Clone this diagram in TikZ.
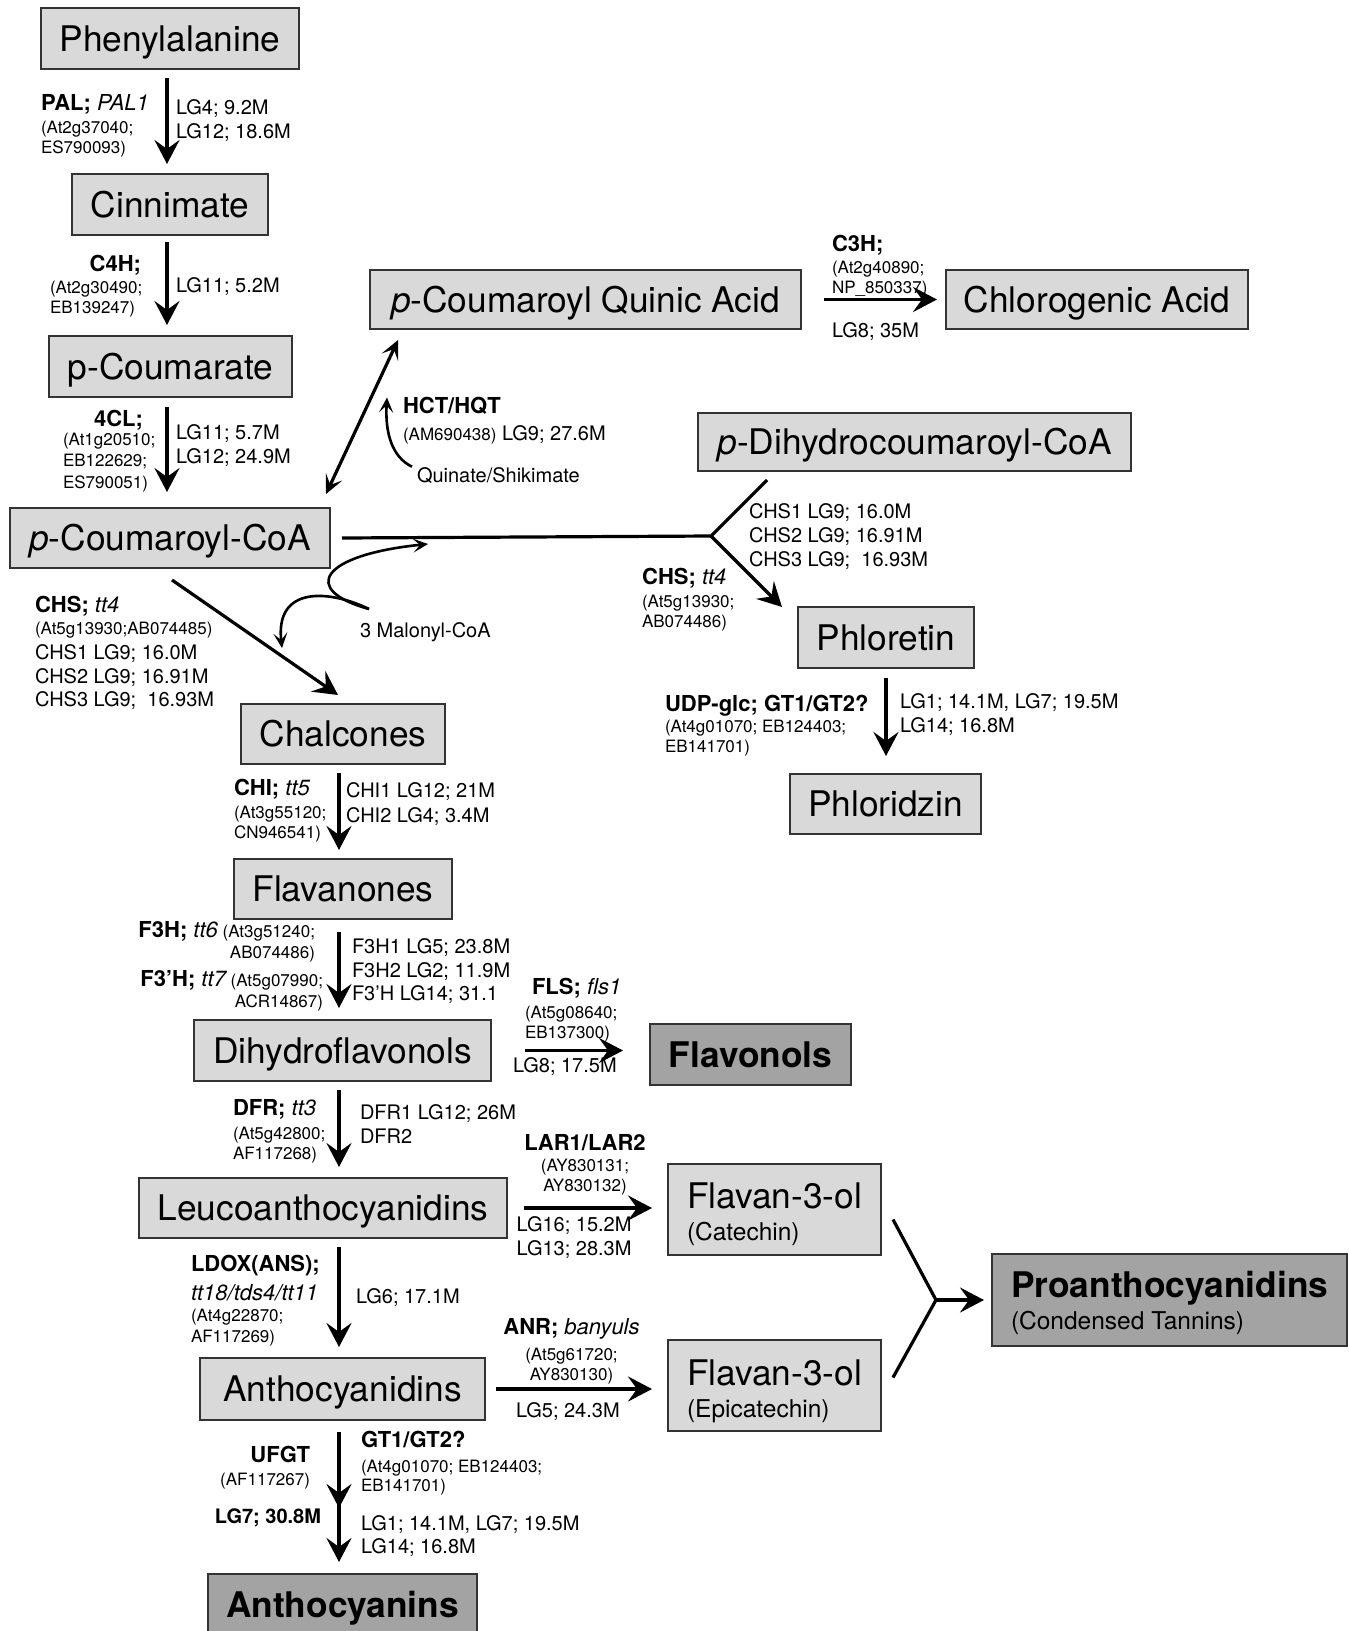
\documentclass[tikz,border=0pt]{standalone}
\usepackage{fontspec}
\setmainfont{TeX Gyre Heros}
\usepackage{tikz}
\usetikzlibrary{arrows.meta, positioning, calc}
\newcommand{\fbig}{\fontsize{35.3}{32}\selectfont}
\newcommand{\fsub}{\fontsize{24.5}{28}\selectfont}
\newcommand{\fmid}{\fontsize{20}{23.5}\selectfont}
\newcommand{\fsmall}{\fontsize{17}{20}\selectfont}
\newcommand{\fenz}{\fontsize{22}{24}\selectfont\bfseries}
\tikzset{
    box/.style={draw=black!80, fill=black!15, line width=1.6pt, inner sep=0pt, outer sep=0pt, font=\fbig, text height=25.3pt, text depth=0pt},
    darkbox/.style={box, fill=black!36, font=\fbig\bfseries},
    boxtext/.style={anchor=north west, inner sep=0pt, outer sep=0pt, align=left, font=\fbig},
    rxn/.style={-{Stealth[length=24pt, width=25pt, inset=9pt]}, line width=3.6pt},
    link/.style={line width=3.2pt},
    twoway/.style={{Stealth[length=19pt, width=18pt, inset=9pt]}-{Stealth[length=19pt, width=18pt, inset=9pt]}, line width=3.2pt},
    curly/.style={-{Stealth[length=15pt, width=14pt, inset=7pt]}, line width=2.6pt},
    lg/.style={anchor=north west, inner sep=0pt, outer sep=0pt, align=left, font=\fmid},
    gene/.style={lg, font=\fsmall}
}
\begin{document}
\begin{tikzpicture}[x=1pt, y=-1pt]
    \useasboundingbox (0,0) rectangle (1349,1631);
    \clip (0,0) rectangle (1349,1631);
    % columns of the two vertical chains
    \coordinate (colA) at (167,0);
    \coordinate (colB) at (339,0);
    % compounds
    \node[box, minimum width=258pt, minimum height=61pt] (phe) at (170,38.5) {Phenylalanine};
    \node[box, minimum width=196pt, minimum height=61pt] (cin) at (170,204.5) {Cinnimate};
    \node[box, minimum width=243pt, minimum height=61pt] (pcm) at (170.5,366.5) {p-Coumarate};
    \node[box, minimum width=320pt, minimum height=60pt] (pcoa) at (170,538) {\textit{p}-Coumaroyl-CoA};
    \node[box, minimum width=431pt, minimum height=59pt] (pqa) at (585.5,299.5) {\textit{p}-Coumaroyl Quinic Acid};
    \node[box, minimum width=302pt, minimum height=59pt] (chl) at (1097,299.5) {Chlorogenic Acid};
    \node[box, minimum width=433pt, minimum height=58pt] (dhc) at (914.5,442) {\textit{p}-Dihydrocoumaroyl-CoA};
    \node[box, minimum width=176pt, minimum height=61pt] (phlt) at (886,637.5) {Phloretin};
    \node[box, minimum width=191pt, minimum height=60pt] (phlz) at (885.5,804) {Phloridzin};
    \node[box, minimum width=204pt, minimum height=60pt] (chal) at (343,734) {Chalcones};
    \node[box, minimum width=218pt, minimum height=60pt] (flvn) at (343,889) {Flavanones};
    \node[box, minimum width=297pt, minimum height=61pt] (dhf) at (342.5,1050.5) {Dihydroflavonols};
    \node[darkbox, minimum width=201pt, minimum height=61pt] (flvl) at (750.5,1054.5) {Flavonols};
    \node[box, minimum width=368pt, minimum height=60pt] (leuco) at (323,1208) {Leucoanthocyanidins};
    \node[box, minimum width=213pt, minimum height=91pt] (cat) at (774.5,1209.5) {};
    \node[box, minimum width=213pt, minimum height=91pt] (epi) at (774.5,1385.5) {};
    \node[darkbox, minimum width=355pt, minimum height=92pt] (pro) at (1169.5,1300) {};
    \node[box, minimum width=285pt, minimum height=62pt] (acy) at (342.5,1389) {Anthocyanidins};
    \node[darkbox, minimum width=269pt, minimum height=62pt] (acn) at (342.5,1605) {Anthocyanins};
    \node[boxtext] (catlbl) at ($(cat.north west)+(19,19)$) {Flavan-3-ol\\{\fsub (Catechin)}};
    \node[boxtext] (epilbl) at ($(epi.north west)+(19,19.5)$) {Flavan-3-ol\\{\fsub (Epicatechin)}};
    \node[boxtext, font=\fbig\bfseries] (prolbl) at ($(pro.north west)+(19,17.2)$) {Proanthocyanidins\\{\fsub\mdseries (Condensed Tannins)}};
    % enzymes and map positions
    \node[gene] (palL) at (41,94.5) {{\fenz PAL; {\mdseries\itshape PAL1}}\\[3pt](At2g37040;\\ES790093)};
    \node[lg] (palG) at (176,100) {LG4; 9.2M\\LG12; 18.6M};
    \node[gene, anchor=north east] (c4hE) at (141,255.5) {\fenz C4H;};
    \node[gene] (c4hA) at (50,281) {(At2g30490;\\EB139247)};
    \node[lg] (c4hG) at (176,277.7) {LG11; 5.2M};
    \node[gene, anchor=north east] (fclE) at (143,410) {\fenz 4CL;};
    \node[gene, font=\fontsize{17}{21.5}\selectfont] (fclA) at (63,433) {(At1g20510;\\EB122629;\\ES790051)};
    \node[lg] (fclG) at (176,425) {LG11; 5.7M\\LG12; 24.9M};
    \node[lg] (hctL) at (403,397.5) {{\fenz HCT/HQT}\\[3.5pt]{\fsmall (AM690438)} LG9; 27.6M};
    \node[lg] (quin) at (417,467.7) {Quinate/Shikimate};
    \node[gene] (c3hL) at (832,235) {{\fenz C3H;}\\[2.6pt](At2g40890;\\NP\_850337)};
    \node[lg] (c3hG) at (832,322.7) {LG8; 35M};
    \node[lg, font=\fontsize{20}{24}\selectfont] (chsG) at (749,503.4) {CHS1 LG9; 16.0M\\CHS2 LG9; 16.91M\\CHS3 LG9;\ \ 16.93M};
    \node[gene] (chsR) at (642,568.5) {{\fenz CHS; {\mdseries\itshape tt4}}\\[2.4pt](At5g13930;\\AB074486)};
    \node[gene] (udpL) at (665,695) {{\fenz UDP-glc; GT1/GT2?}\\[1pt](At4g01070; EB124403;\\EB141701)};
    \node[lg] (udpG) at (900,694) {LG1; 14.1M, LG7; 19.5M\\LG14; 16.8M};
    \node[lg] (chsL) at (35,596) {{\fenz CHS; {\mdseries\itshape tt4}}\\[-1.2pt]{\fsmall (At5g13930;AB074485)}\\[1.8pt]CHS1 LG9; 16.0M\\CHS2 LG9; 16.91M\\CHS3 LG9;\ \ 16.93M};
    \node[lg] (malo) at (360,623) {3 Malonyl-CoA};
    \node[gene] (chiL) at (234,779.2) {{\fenz CHI; {\mdseries\itshape tt5}}\\[3.3pt](At3g55120;\\CN946541)};
    \node[lg, font=\fontsize{20}{24.4}\selectfont] (chiG) at (346,783) {CHI1 LG12; 21M\\CHI2 LG4; 3.4M};
    \node[gene, anchor=north east, align=right] (f3hL) at (315,921.5) {{\fenz F3H; {\mdseries\itshape tt6}} (At3g51240;\\[1pt]AB074486)};
    \node[gene, anchor=north east, align=right] (f3phL) at (323,970) {{\fenz F3’H; {\mdseries\itshape tt7}} (At5g07990;\\[1.6pt]ACR14867)};
    \node[lg] (f3hG) at (352,939) {F3H1 LG5; 23.8M\\F3H2 LG2; 11.9M\\F3’H LG14; 31.1};
    \node[gene] (flsE) at (532,978.5) {\fenz FLS; {\mdseries\itshape fls1}};
    \node[gene] (flsA) at (525,1006) {(At5g08640;\\EB137300)};
    \node[lg] (flsG) at (513,1057.4) {LG8; 17.5M};
    \node[gene] (dfrL) at (233,1099.5) {{\fenz DFR; {\mdseries\itshape tt3}}\\[4pt](At5g42800;\\AF117268)};
    \node[lg] (dfrG) at (360,1104.7) {DFR1 LG12; 26M\\DFR2};
    \node[gene, anchor=north, align=center] (larL) at (585,1134.2) {{\fenz LAR1/LAR2}\\[1.7pt](AY830131;\\AY830132)};
    \node[lg, font=\fontsize{20}{24.3}\selectfont] (larG) at (516.7,1216.4) {LG16; 15.2M\\LG13; 28.3M};
    \node[gene] (ldoxL) at (191,1254.9) {{\fenz LDOX(ANS);}\\[7.6pt]{\fenz\mdseries\itshape tt18/tds4/tt11}\\[1.7pt](At4g22870;\\[1pt]AF117269)};
    \node[lg] (ldoxG) at (356,1289) {LG6; 17.1M};
    \node[gene, anchor=north, align=center] (anrL) at (571.5,1318.5) {{\fenz ANR; {\mdseries\itshape banyuls}}\\[5.7pt](At5g61720;\\AY830130)};
    \node[lg] (anrG) at (516,1402.4) {LG5; 24.3M};
    \node[gene, anchor=north east, align=right] (ufgtL) at (310,1445.9) {{\fenz UFGT}\\[3.3pt](AF117267)};
    \node[gene, anchor=north east] (ufgtG) at (321,1508.5) {\fontsize{20}{22}\selectfont\bfseries LG7; 30.8M};
    \node[gene] (gtL) at (361,1430.9) {{\fenz GT1/GT2?}\\[5pt](At4g01070; EB124403;\\[-1pt]EB141701)};
    \node[lg, font=\fontsize{20}{23.3}\selectfont] (gtG) at (361,1515.7) {LG1; 14.1M, LG7; 19.5M\\LG14; 16.8M};
    % phenylpropanoid chain
    \draw[rxn, shorten <=9pt, shorten >=10pt] (phe.south -| colA) -- (cin.north -| colA);
    \draw[rxn, shorten <=7pt, shorten >=11pt] (cin.south -| colA) -- (pcm.north -| colA);
    \draw[rxn, shorten <=10pt, shorten >=16pt] (pcm.south -| colA) -- (pcoa.north -| colA);
    % quinic acid branch
    \draw[twoway] ($(pcoa.north east)+(-4,-14)$) -- ($(pqa.south west)+(28,11)$);
    \coordinate (qsrc) at ($(quin.north west)+(-5,-1)$);
    \coordinate (qend) at ($(hctL.north west)+(-16,0)$);
    \draw[curly] (qsrc) .. controls (392,457) and (385,433) .. (qend);
    \draw[rxn, shorten <=23pt, shorten >=9pt] (pqa.east) -- (chl.west);
    % dihydrochalcone branch
    \coordinate (jct) at (711,536);
    \draw[link] ($(pcoa.east)+(12,0)$) -- (jct) -- ($(dhc.south west)+(69,9)$);
    \draw[rxn, line width=3.2pt] (jct) -- ($(phlt.north west)+(-16,0)$);
    \draw[rxn, shorten <=10pt, shorten >=18pt] (phlt.south) -- (phlt.south |- phlz.north);
    % malonyl-CoA input
    \coordinate (msrc) at ($(malo.north west)+(9,-14)$);
    \coordinate (mtop) at (428,544);
    \coordinate (mlow) at (282,648);
    \draw[curly] (msrc) .. controls (300,590) and (320,555) .. (mtop);
    \draw[curly] (msrc) .. controls (330,590) and (275,585) .. (mlow);
    % flavonoid chain
    \draw[rxn, line width=3.2pt] ($(pcoa.south)+(2,12)$) -- ($(chal.north)+(-5,-9)$);
    \draw[rxn, shorten <=9pt, shorten >=9pt] (chal.south -| colB) -- (flvn.north -| colB);
    \draw[rxn, shorten <=13pt, shorten >=12pt] (flvn.south -| colB) -- (dhf.north -| colB);
    \draw[rxn, shorten <=9pt, shorten >=11pt] (dhf.south -| colB) -- (leuco.north -| colB);
    \draw[rxn, shorten <=9pt, shorten >=11pt] (leuco.south -| colB) -- (acy.north -| colB);
    \coordinate (ufgtmid) at (339,1508);
    \draw[rxn, shorten <=12pt, shorten >=12pt] (acy.south -| colB) -- (acn.north -| colB);
    \draw[rxn, shorten <=12pt] (acy.south -| colB) -- (ufgtmid);
    % side products
    \draw[rxn, shorten <=34pt, shorten >=27pt] (dhf.east) -- (dhf.east -| flvl.west);
    \draw[rxn, shorten <=17pt, shorten >=16pt] (leuco.east) -- (leuco.east -| cat.west);
    \draw[rxn, shorten <=10.5pt, shorten >=16pt] (acy.east) -- (acy.east -| epi.west);
    % condensation
    \coordinate (jct2) at (936,1300);
    \draw[link] ($(cat.east)+(12,10)$) -- (jct2) -- ($(epi.east)+(12,-8)$);
    \draw[rxn, line width=3.2pt, shorten >=8pt] (jct2) -- (pro.west);
\end{tikzpicture}
\end{document}
